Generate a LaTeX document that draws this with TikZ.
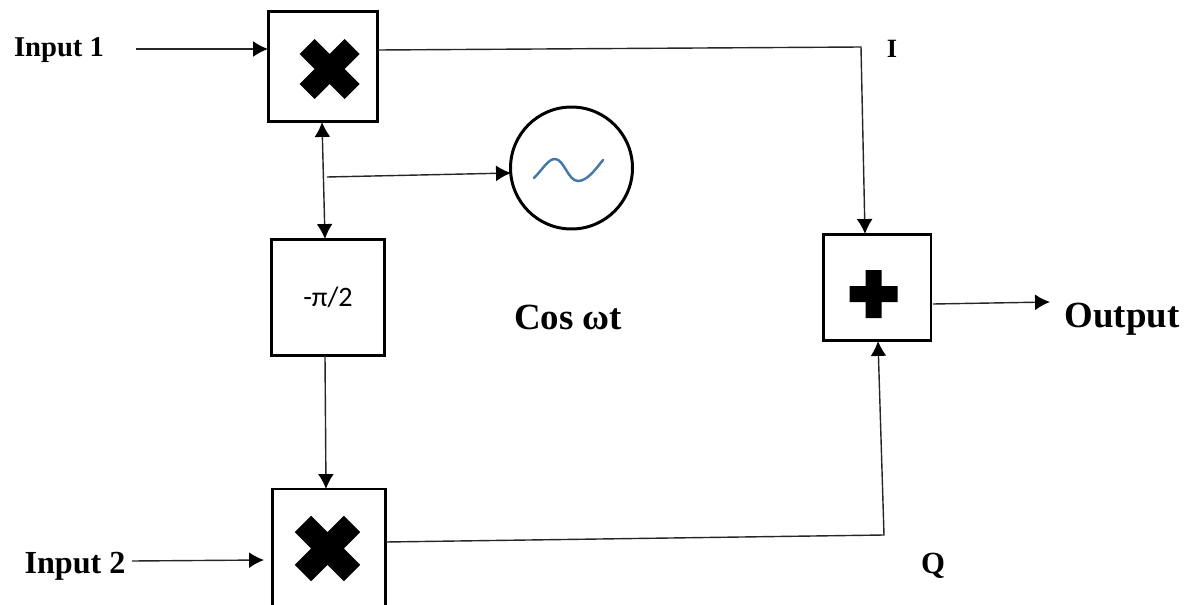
\documentclass[tikz,border=0pt]{standalone}
\usepackage{fontspec}
\setmainfont{Liberation Serif}
\newfontfamily\boxfont{Carlito}
\usetikzlibrary{arrows.meta}
\definecolor{sineblue}{RGB}{70,120,170}
\tikzset{
  blockbox/.style={draw, line width=1.7pt, inner sep=0pt, outer sep=0pt},
  arrowtip/.tip={Latex[length=8.5pt,width=9pt,black]},
  conn/.style={line width=0.8pt, draw=black!85, -arrowtip},
  lab/.style={font=\bfseries\fontsize{#1}{#1}\selectfont, inner sep=0pt},
  pics/mulsign/.style={code={
    \fill (-15,-30) -- (0,-15) -- (15,-30) -- (30,-15) -- (15,0) -- (30,15) -- (15,30)
      -- (0,15) -- (-15,30) -- (-30,15) -- (-15,0) -- (-30,-15) -- cycle;}},
  pics/addsign/.style={code={
    \fill (-8,-24) -- (8,-24) -- (8,-8) -- (24,-8) -- (24,8) -- (8,8) -- (8,24)
      -- (-8,24) -- (-8,8) -- (-24,8) -- (-24,-8) -- (-8,-8) -- cycle;}}
}
\begin{document}
\begin{tikzpicture}[x=0.02cm, y=-0.02cm, line cap=butt, line join=miter]
  \useasboundingbox (0,0) rectangle (1191,605);
  \clip (0,0) rectangle (1191,605);
  % Blocks
  \node[blockbox, minimum width=2.2cm, minimum height=2.22cm] (mul1) at (323,66.5) {};
  \node[blockbox, minimum width=2.28cm, minimum height=2.34cm] (shift) at (328,297.5) {\raisebox{-4.5pt}{\boxfont\fontsize{16}{16}\selectfont -π/2}};
  \node[blockbox, minimum width=2.28cm, minimum height=2.6cm, anchor=north] (mul2) at (329,489) {};
  \node[blockbox, minimum width=2.16cm, minimum height=2.14cm] (sum) at (877,287.5) {};
  \node[draw, circle, line width=1.7pt, minimum size=2.44cm, inner sep=0pt, outer sep=0pt] (osc) at (571.5,168) {};
  % Signs inside the blocks
  \pic (cross1) at (329.5,69) {mulsign};
  \pic[scale=1.09] (cross2) at (327.5,548.5) {mulsign};
  \pic (plus) at (873.5,294) {addsign};
  \draw[line width=1.4pt, draw=sineblue, line cap=round]
    (534,178) .. controls (543,169) and (548,159) .. (555,159)
    .. controls (564,159) and (568,181) .. (578,181)
    .. controls (587,181) and (595,170) .. (603,160);
  % Labels
  \node[lab=16.3] (input1) at (59,50.5) {Input 1};
  \node[lab=18.3] (input2) at (75,566) {Input 2};
  \node[lab=15] (ilabel) at (892,49) {I};
  \node[lab=17.5] (qlabel) at (933,566) {Q};
  \node[lab=21] (cosl) at (568,317) {Cos ωt};
  \node[lab=21] (output) at (1122,319) {Output};
  % Free ends of the connectors
  \coordinate (in1) at (136,49);
  \coordinate (in2) at (132,561);
  \coordinate (in2end) at (264,560);
  \coordinate (iout) at (378,50);
  \coordinate (icorner) at (861,47);
  \coordinate (qout) at (386,542);
  \coordinate (qcorner) at (884,535);
  \coordinate (tap) at (327,177);
  \coordinate (oscin) at (511,173);
  \coordinate (sumout) at (933,304);
  \coordinate (outend) at (1050,302);
  % Connectors
  \draw[conn] (in1) -- (in1 -| mul1.west);
  \draw[conn] (in2) -- (in2end);
  \draw[conn] (iout) -- (icorner) -- (sum.north -| 865,0);
  \draw[conn] (qout) -- (qcorner) -- (sum.south -| 878,0);
  \draw[conn] (sumout) -- (outend);
  \draw[conn, arrowtip-arrowtip] (mul1.south -| 322,0) -- (shift.north -| 325,0);
  \draw[conn] (tap) -- (oscin);
  \draw[conn] (shift.south -| 325,0) -- (mul2.north -| 326,0);
\end{tikzpicture}
\end{document}
